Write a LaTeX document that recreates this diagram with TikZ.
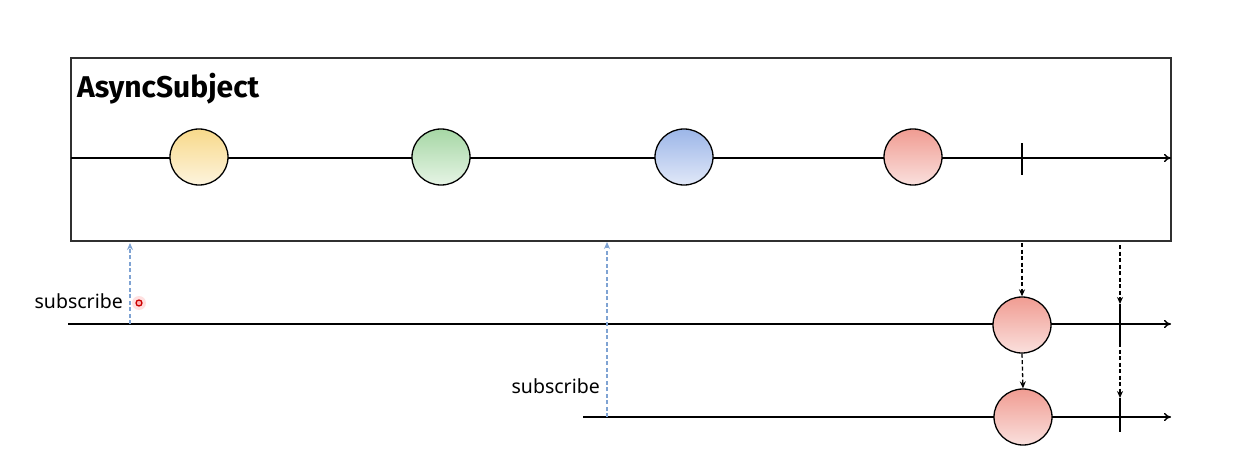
\documentclass[tikz,border=0pt]{standalone}
\usepackage{fontspec}
\setmainfont{Noto Sans}
\newfontfamily\titlefont{Fira Sans}
\usetikzlibrary{arrows.meta,shapes.geometric,calc}
\definecolor{yellowtop}{HTML}{F8D98A}
\definecolor{yellowbot}{HTML}{FDF4DE}
\definecolor{greentop}{HTML}{A6D7A5}
\definecolor{greenbot}{HTML}{E6F4E5}
\definecolor{bluetop}{HTML}{9CB6E8}
\definecolor{bluebot}{HTML}{E1E8F8}
\definecolor{redtop}{HTML}{F09C92}
\definecolor{redbot}{HTML}{FAE0DD}
\definecolor{subblue}{HTML}{7FA3D3}
\definecolor{framegray}{HTML}{303030}
\tikzset{
  every picture/.style={x=1pt,y=-1pt},
  marble/.style={ellipse,draw=black,line width=1.3pt,minimum width=58pt,minimum height=56pt,inner sep=0pt,
    top color=#1top,bottom color=#1bot},
  timeline/.style={line width=1.4pt,-{To[length=7pt,width=8pt]}},
  tickmark/.style={line width=1.4pt},
  emitarrow/.style={line width=1.3pt,dash pattern=on 4pt off 2.5pt,-{Stealth[length=7pt,width=6pt]}},
  subarrow/.style={line width=1.3pt,subblue,dash pattern=on 4pt off 2.5pt,-{Stealth[length=7pt,width=6pt]}},
  lbl/.style={font=\fontsize{19.5}{22}\selectfont,inner sep=0pt,anchor=east},
}
\begin{document}
\begin{tikzpicture}
\useasboundingbox (0,0) rectangle (1254,452);
\fill[white] (0,0) rectangle (1254,452);
% subject frame
\node[draw=framegray,line width=1.5pt,minimum width=1100pt,minimum height=183pt,inner sep=0pt] (box) at (621,149.5) {};
\node[font=\titlefont\bfseries\fontsize{30}{32}\selectfont,anchor=west,inner sep=0pt] (title) at (77,89) {AsyncSubject};
% main timeline
\coordinate (mstart) at (71,158);
\coordinate (mend) at (1171,158);
\draw[timeline] (mstart) -- (mend);
\node[marble=yellow] (m1) at (199,157) {};
\node[marble=green] (m2) at (441,157) {};
\node[marble=blue] (m3) at (684,157) {};
\node[marble=red] (m4) at (913,157) {};
\coordinate (c1) at (1022,143);
\coordinate (c2) at (1022,175);
\draw[tickmark] (c1) -- (c2);
% first subscriber
\coordinate (s1start) at (68,324);
\coordinate (s1end) at (1171,324);
\draw[timeline] (s1start) -- (s1end);
\node[marble=red] (r1) at (1022,325) {};
\coordinate (t1a) at (1120,304);
\coordinate (t1b) at (1120,343);
\draw[tickmark] (t1a) -- (t1b);
% second subscriber
\coordinate (s2start) at (583,417);
\coordinate (s2end) at (1171,417);
\draw[timeline] (s2start) -- (s2end);
\node[marble=red] (r2) at (1023,417) {};
\coordinate (t2a) at (1120,398);
\coordinate (t2b) at (1120,432);
\draw[tickmark] (t2a) -- (t2b);
% emission arrows
\coordinate (e1) at (1022,243);
\draw[emitarrow] (e1) -- (r1.north);
\draw[emitarrow] (r1.south) -- (r2.north);
\coordinate (e2) at (1120,245);
\draw[emitarrow] (e2) -- (t1a);
\draw[emitarrow] (t1b) -- (t2a);
% subscribe arrows
\coordinate (u1) at (130,324);
\coordinate (u1t) at (130,243);
\draw[subarrow] (u1) -- (u1t);
\coordinate (u2) at (607,417);
\coordinate (u2t) at (607,242);
\draw[subarrow] (u2) -- (u2t);
\node[lbl] (sub1) at (123,301) {subscribe};
\node[lbl] (sub2) at (600,386) {subscribe};
% cursor highlight
\fill[red!20,opacity=0.6] (139,303) circle (7);
\draw[red!80!black,line width=1.3pt,fill=red!30] (139,303) circle (3);
\end{tikzpicture}
\end{document}
